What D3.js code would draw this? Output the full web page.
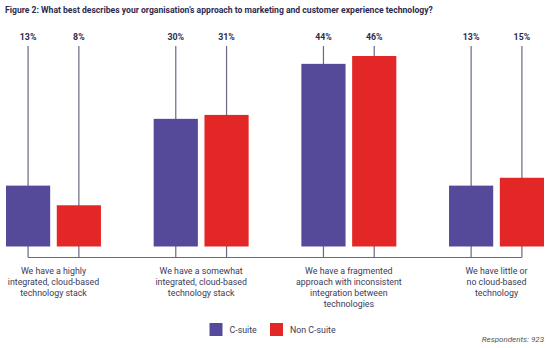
<!DOCTYPE html>
<html>
<head>
<meta charset="utf-8">
<script src="https://cdn.jsdelivr.net/npm/d3@7"></script>
<style>
  body { margin: 0; background: #fff; }
  svg { display: block; font-family: Roboto, "Noto Sans", sans-serif; }
</style>
</head>
<body>
<svg id="chart" width="550" height="348"></svg>
<script>
const categories = [
  ["We have a highly", "integrated, cloud-based", "technology stack"],
  ["We have a somewhat", "integrated, cloud-based", "technology stack"],
  ["We have a fragmented", "approach with inconsistent", "integration between", "technologies"],
  ["We have little or", "no cloud-based", "technology"]
];
const series = ["C-suite", "Non C-suite"];
const cSuite = [13, 30, 44, 13];
const nonCSuite = [8, 31, 46, 15];

const colors = { "C-suite": "#544a99", "Non C-suite": "#e32726" };
const lineColor = "#6a6985";
const textColor = "#2d2c4f";

const svg = d3.select("#chart");
const baseline = 246.5, connectorY = 257.5;

const rows = categories.map((c, i) => ({
  id: i,
  lines: c,
  values: [
    { key: "C-suite", value: cSuite[i] },
    { key: "Non C-suite", value: nonCSuite[i] }
  ]
}));

const x0 = d3.scaleBand().domain(rows.map(d => d.id)).range([6, 544]).paddingInner(0.357);
const x1 = d3.scaleBand().domain(series).range([0, x0.bandwidth()]).paddingInner(0.13);
const y = d3.scaleLinear().domain([-2.5, 46]).range([baseline, 56]);

// title
svg.append("text")
  .attr("x", 5).attr("y", 13)
  .attr("font-size", 8.6).attr("font-weight", 700)
  .attr("fill", textColor)
  .text("Figure 2: What best describes your organisation\u2019s approach to marketing and customer experience technology?");

// connector running under all the bars
const cx = (g, k) => x0(g) + x1(k) + x1.bandwidth() / 2;
svg.append("line")
  .attr("x1", cx(0, "C-suite")).attr("x2", cx(3, "Non C-suite"))
  .attr("y1", connectorY).attr("y2", connectorY)
  .attr("stroke", lineColor).attr("stroke-width", 1.2);

const group = svg.selectAll("g.grp")
  .data(rows)
  .enter().append("g")
  .attr("class", "grp")
  .attr("transform", d => `translate(${x0(d.id)},0)`);

const bar = group.selectAll("g.bar")
  .data(d => d.values)
  .enter().append("g")
  .attr("class", "bar");

// stem from label down to the bar, and tick from bar to connector
bar.append("line")
  .attr("x1", d => x1(d.key) + x1.bandwidth() / 2)
  .attr("x2", d => x1(d.key) + x1.bandwidth() / 2)
  .attr("y1", 46).attr("y2", connectorY)
  .attr("stroke", lineColor).attr("stroke-width", 1.2);

bar.append("rect")
  .attr("x", d => x1(d.key))
  .attr("width", x1.bandwidth())
  .attr("y", d => y(d.value))
  .attr("height", d => baseline - y(d.value))
  .attr("fill", d => colors[d.key]);

bar.append("text")
  .attr("x", d => x1(d.key) + x1.bandwidth() / 2)
  .attr("y", 39.5)
  .attr("text-anchor", "middle")
  .attr("font-size", 8.8).attr("font-weight", 700)
  .attr("fill", textColor)
  .text(d => d.value + "%");

// category labels
group.append("text")
  .attr("text-anchor", "middle")
  .attr("font-size", 8.8)
  .attr("fill", "#3b3a58")
  .selectAll("tspan")
  .data(d => d.lines)
  .enter().append("tspan")
  .attr("x", x0.bandwidth() / 2)
  .attr("y", (d, i) => 273.8 + i * 11)
  .text(d => d);

// legend
const legend = svg.append("g").selectAll("g")
  .data(series)
  .enter().append("g")
  .attr("transform", (d, i) => `translate(${i ? 270 : 209.5},323)`);
legend.append("rect").attr("width", 13).attr("height", 13).attr("fill", d => colors[d]);
legend.append("text")
  .attr("x", 20).attr("y", 10)
  .attr("font-size", 8.8).attr("fill", "#3b3a58")
  .text(d => d);

svg.append("text")
  .attr("x", 544).attr("y", 342)
  .attr("text-anchor", "end")
  .attr("font-size", 8).attr("font-style", "italic")
  .attr("fill", "#555")
  .text("Respondents: 923");
</script>
</body>
</html>
